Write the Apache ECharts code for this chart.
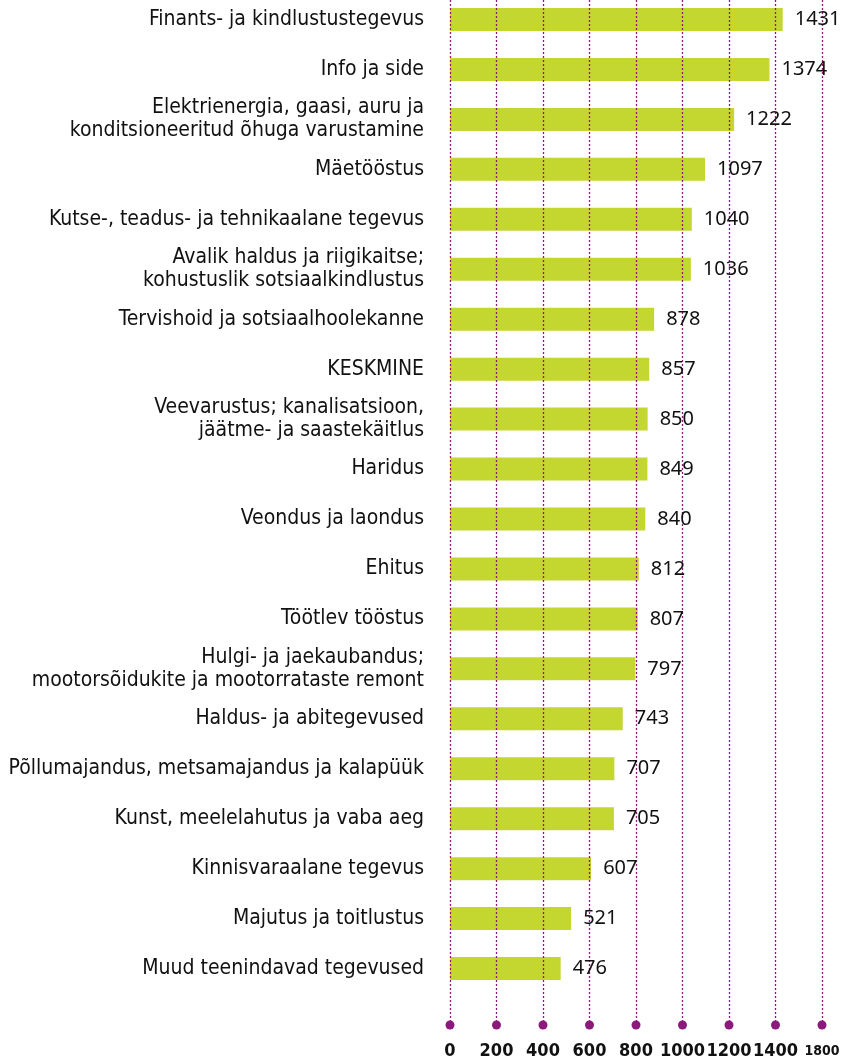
<!DOCTYPE html>
<html>
<head>
<meta charset="utf-8">
<script src="https://cdn.jsdelivr.net/npm/echarts@6/dist/echarts.min.js"></script>
<style>
  html, body { margin: 0; padding: 0; background: #fff; }
  #chart { width: 847px; height: 1061px; }
</style>
</head>
<body>
<div id="chart"></div>
<script>
var categories = [
  'Finants- ja kindlustustegevus',
  'Info ja side',
  'Elektrienergia, gaasi, auru ja\nkonditsioneeritud õhuga varustamine',
  'Mäetööstus',
  'Kutse-, teadus- ja tehnikaalane tegevus',
  'Avalik haldus ja riigikaitse;\nkohustuslik sotsiaalkindlustus',
  'Tervishoid ja sotsiaalhoolekanne',
  'KESKMINE',
  'Veevarustus; kanalisatsioon,\njäätme- ja saastekäitlus',
  'Haridus',
  'Veondus ja laondus',
  'Ehitus',
  'Töötlev tööstus',
  'Hulgi- ja jaekaubandus;\nmootorsõidukite ja mootorrataste remont',
  'Haldus- ja abitegevused',
  'Põllumajandus, metsamajandus ja kalapüük',
  'Kunst, meelelahutus ja vaba aeg',
  'Kinnisvaraalane tegevus',
  'Majutus ja toitlustus',
  'Muud teenindavad tegevused'
];
var values = [1431, 1374, 1222, 1097, 1040, 1036, 878, 857, 850, 849, 840, 812, 807, 797, 743, 707, 705, 607, 521, 476];
var ticks = [0, 200, 400, 600, 800, 1000, 1200, 1400, 1600];
var tickLabels = ['0', '200', '400', '600', '800', '1000', '1200', '1400', '1800'];

var FONT = '"DejaVu Sans Condensed", sans-serif';
var PURPLE = '#8c1a7c';

var chart = echarts.init(document.getElementById('chart'));

var option = {
  animation: false,
  grid: [
    { left: 450, right: 25, top: -5.5, height: 999, outerBoundsMode: 'none', containLabel: false },
    { left: 450, right: 25, top: 0, bottom: 36, outerBoundsMode: 'none', containLabel: false }
  ],
  xAxis: [{
    gridIndex: 0,
    type: 'value',
    min: 0,
    max: 1600,
    show: false
  }, {
    gridIndex: 1,
    type: 'value',
    min: 0,
    max: 1600,
    interval: 200,
    z: 3,
    axisLine: { show: false },
    axisTick: { show: false },
    splitLine: {
      show: true,
      lineStyle: { color: PURPLE, width: 1.3, type: [2, 2] }
    },
    axisLabel: {
      margin: 17,
      color: '#111',
      fontFamily: FONT,
      fontWeight: 'bold',
      fontSize: 18,
      showMinLabel: true,
      showMaxLabel: true,
      formatter: function (v) {
        var i = ticks.indexOf(v);
        var s = i >= 0 ? tickLabels[i] : '';
        return i === ticks.length - 1 ? '{s|' + s + '}' : s;
      },
      rich: {
        s: { fontFamily: FONT, fontWeight: 'bold', fontSize: 14, color: '#111', padding: [2, 0, 0, 0] }
      }
    }
  }],
  yAxis: [{
    gridIndex: 0,
    type: 'category',
    inverse: true,
    data: categories,
    axisLine: { show: false },
    axisTick: { show: false },
    splitLine: { show: false },
    axisLabel: {
      margin: 26,
      color: '#111',
      fontFamily: FONT,
      fontSize: 21,
      lineHeight: 23,
      align: 'right'
    }
  }, {
    gridIndex: 1,
    type: 'value',
    min: 0,
    max: 1,
    show: false
  }],
  series: [{
    type: 'bar',
    xAxisIndex: 0,
    yAxisIndex: 0,
    data: values,
    barWidth: 23,
    z: 2,
    itemStyle: { color: '#c4d630' }
  }, {
    // label layer, drawn above the dotted grid
    type: 'bar',
    xAxisIndex: 0,
    yAxisIndex: 0,
    data: values,
    barWidth: 23,
    barGap: '-100%',
    z: 5,
    silent: true,
    itemStyle: { color: 'rgba(0,0,0,0)' },
    label: {
      show: true,
      position: 'right',
      distance: 12,
      color: '#111',
      fontFamily: '"Noto Sans", sans-serif',
      fontSize: 20
    }
  }, {
    type: 'scatter',
    xAxisIndex: 1,
    yAxisIndex: 1,
    clip: false,
    z: 4,
    symbol: 'circle',
    symbolSize: 9,
    itemStyle: { color: PURPLE, opacity: 1 },
    data: ticks.map(function (t) { return [t, 0]; })
  }]
};

chart.setOption(option);
</script>
</body>
</html>
